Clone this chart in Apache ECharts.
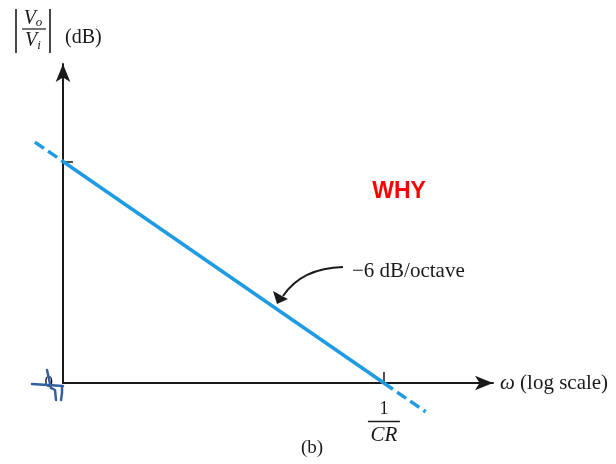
<!DOCTYPE html>
<html>
<head>
<meta charset="utf-8">
<script src="https://cdn.jsdelivr.net/npm/echarts@6/dist/echarts.min.js"></script>
<style>
  html, body { margin: 0; padding: 0; background: #fff; }
  #chart { width: 616px; height: 464px; }
</style>
</head>
<body>
<div id="chart"></div>
<script>
// Asymptotic magnitude response of a first-order high-pass RC section.
// x: octaves (log frequency) measured from the left edge of the plot, 1/CR sits at x = 4
// y: gain in dB (0 dB at 1/CR, rising 6 dB for every octave below it)
const solidSegment = [[0, 24], [4, 0]];
const dashLeft = [[-0.35, 26.1], [0, 24]];
const dashRight = [[4, 0], [4.52, -3.12]];

const xTickValues = [4];     // 1/CR
const yTickValues = [24];
const yLabelValues = [0];

const slopeText = '\u22126 dB/octave';
const xName = '{w|\u03c9} (log scale)';
const captionText = '(b)';
const noteText = 'WHY';

const serif = '"Liberation Serif", "DejaVu Serif", serif';
const ink = '#1a1a1a';
const lineBlue = '#1e9be3';
const penBlue = '#33609f';

const chart = echarts.init(document.getElementById('chart'), null, { renderer: 'canvas' });

// One straight segment per series, placed through the cartesian scales.
const segmentSeries = (seg, dashed) => ({
  type: 'custom',
  coordinateSystem: 'cartesian2d',
  clip: false,
  silent: true,
  animation: false,
  z: 3,
  encode: { x: [0, 2], y: [1, 3] },
  data: [[seg[0][0], seg[0][1], seg[1][0], seg[1][1]]],
  renderItem: (params, api) => {
    const a = api.coord([api.value(0), api.value(1)]);
    const b = api.coord([api.value(2), api.value(3)]);
    return {
      type: 'line',
      shape: { x1: a[0], y1: a[1], x2: b[0], y2: b[1] },
      style: {
        stroke: lineBlue,
        lineWidth: 3.5,
        lineCap: 'butt',
        lineDash: dashed ? [11, 5] : null
      }
    };
  }
});

chart.setOption({
  backgroundColor: '#fff',
  animation: false,
  grid: { left: 63, right: 123, top: 64, bottom: 81, containLabel: false },
  xAxis: {
    type: 'value',
    min: 0,
    max: 5.36,
    name: xName,
    nameLocation: 'end',
    nameGap: 7,
    nameTextStyle: {
      fontFamily: serif, fontSize: 21, color: ink, verticalAlign: 'middle', align: 'left',
      rich: { w: { fontFamily: serif, fontStyle: 'italic', fontSize: 21, color: ink } }
    },
    axisLine: {
      onZero: false,
      lineStyle: { color: ink, width: 2 },
      symbol: ['none', 'arrow'],
      symbolSize: [11, 18]
    },
    axisTick: { show: true, inside: true, length: 11, customValues: xTickValues, lineStyle: { color: ink, width: 1.5 } },
    axisLabel: {
      show: true,
      customValues: xTickValues,
      margin: 18,
      formatter: () => '{n|1}\n{bar|}\n{d|CR}',
      rich: {
        n: { fontFamily: serif, fontSize: 18, color: ink, lineHeight: 17, align: 'center' },
        bar: { width: 32, height: 1.5, lineHeight: 7, backgroundColor: ink, align: 'center' },
        d: { fontFamily: serif, fontStyle: 'italic', fontSize: 21, color: ink, lineHeight: 21, align: 'center' }
      }
    },
    splitLine: { show: false }
  },
  yAxis: {
    type: 'value',
    min: 0,
    max: 34.56,
    axisLine: {
      onZero: false,
      lineStyle: { color: ink, width: 2 },
      symbol: ['none', 'arrow'],
      symbolSize: [11, 18]
    },
    axisTick: { show: true, inside: true, length: 10, customValues: yTickValues, lineStyle: { color: ink, width: 1.5 } },
    axisLabel: {
      show: true,
      customValues: yLabelValues,
      margin: 10,
      fontFamily: serif,
      fontSize: 17,
      color: ink,
      verticalAlign: 'middle',
      formatter: (v) => String(v)
    },
    splitLine: { show: false }
  },
  series: [
    segmentSeries(solidSegment, false),
    segmentSeries(dashLeft, true),
    segmentSeries(dashRight, true)
  ],
  graphic: [
    // |Vo/Vi| (dB) heading of the vertical axis
    { type: 'line', shape: { x1: 16, y1: 9, x2: 16, y2: 53 }, style: { stroke: ink, lineWidth: 1.6 } },
    { type: 'line', shape: { x1: 50, y1: 9, x2: 50, y2: 53 }, style: { stroke: ink, lineWidth: 1.6 } },
    { type: 'line', shape: { x1: 22, y1: 29, x2: 46, y2: 29 }, style: { stroke: ink, lineWidth: 1.2 } },
    {
      type: 'text', x: 33, y: 19,
      style: { text: '{v|V}{s|o}', align: 'center', verticalAlign: 'middle',
        rich: { v: { fontFamily: serif, fontStyle: 'italic', fontSize: 20, fill: ink },
                s: { fontFamily: serif, fontStyle: 'italic', fontSize: 13, fill: ink, padding: [7, 0, 0, 0] } } }
    },
    {
      type: 'text', x: 33, y: 41,
      style: { text: '{v|V}{s|i}', align: 'center', verticalAlign: 'middle',
        rich: { v: { fontFamily: serif, fontStyle: 'italic', fontSize: 20, fill: ink },
                s: { fontFamily: serif, fontStyle: 'italic', fontSize: 13, fill: ink, padding: [9, 0, 0, 0] } } }
    },
    {
      type: 'text', x: 65, y: 38,
      style: { text: '(dB)', fontFamily: serif, fontSize: 20, fill: ink, align: 'left', verticalAlign: 'middle' }
    },
    // slope annotation with curved pointer
    {
      type: 'text', x: 352, y: 271,
      style: { text: slopeText, fontFamily: serif, fontSize: 21, fill: ink, align: 'left', verticalAlign: 'middle' }
    },
    {
      type: 'bezierCurve',
      shape: { x1: 343, y1: 267, x2: 283, y2: 296, cpx1: 302, cpy1: 268 },
      style: { stroke: ink, lineWidth: 2, fill: null }
    },
    {
      type: 'polygon',
      shape: { points: [[277, 304], [273, 291], [282, 296], [288, 299]] },
      style: { fill: ink }
    },
    // red note
    {
      type: 'text', x: 399, y: 192,
      style: { text: noteText, fontFamily: '"Liberation Sans", Arial, sans-serif', fontWeight: 'bold', fontSize: 23, fill: '#ff0000', align: 'center', verticalAlign: 'middle' }
    },
    // caption
    {
      type: 'text', x: 312, y: 448,
      style: { text: captionText, fontFamily: serif, fontSize: 19, fill: ink, align: 'center', verticalAlign: 'middle' }
    },
    // pen scribble over the origin
    { type: 'polyline', shape: { points: [[47, 370], [49, 379], [51, 388]] }, style: { stroke: penBlue, lineWidth: 2.5, fill: null, lineCap: 'round' }, z: 10 },
    { type: 'polyline', shape: { points: [[32, 384], [48, 385], [63, 386]] }, style: { stroke: penBlue, lineWidth: 2.5, fill: null, lineCap: 'round' }, z: 10 },
    { type: 'polyline', shape: { points: [[51, 388], [55, 390], [56, 400]] }, style: { stroke: penBlue, lineWidth: 2.5, fill: null, lineCap: 'round' }, z: 10 },
    { type: 'polyline', shape: { points: [[62, 387], [62, 393], [61, 400]] }, style: { stroke: penBlue, lineWidth: 2.5, fill: null, lineCap: 'round' }, z: 10 }
  ]
});
</script>
</body>
</html>
